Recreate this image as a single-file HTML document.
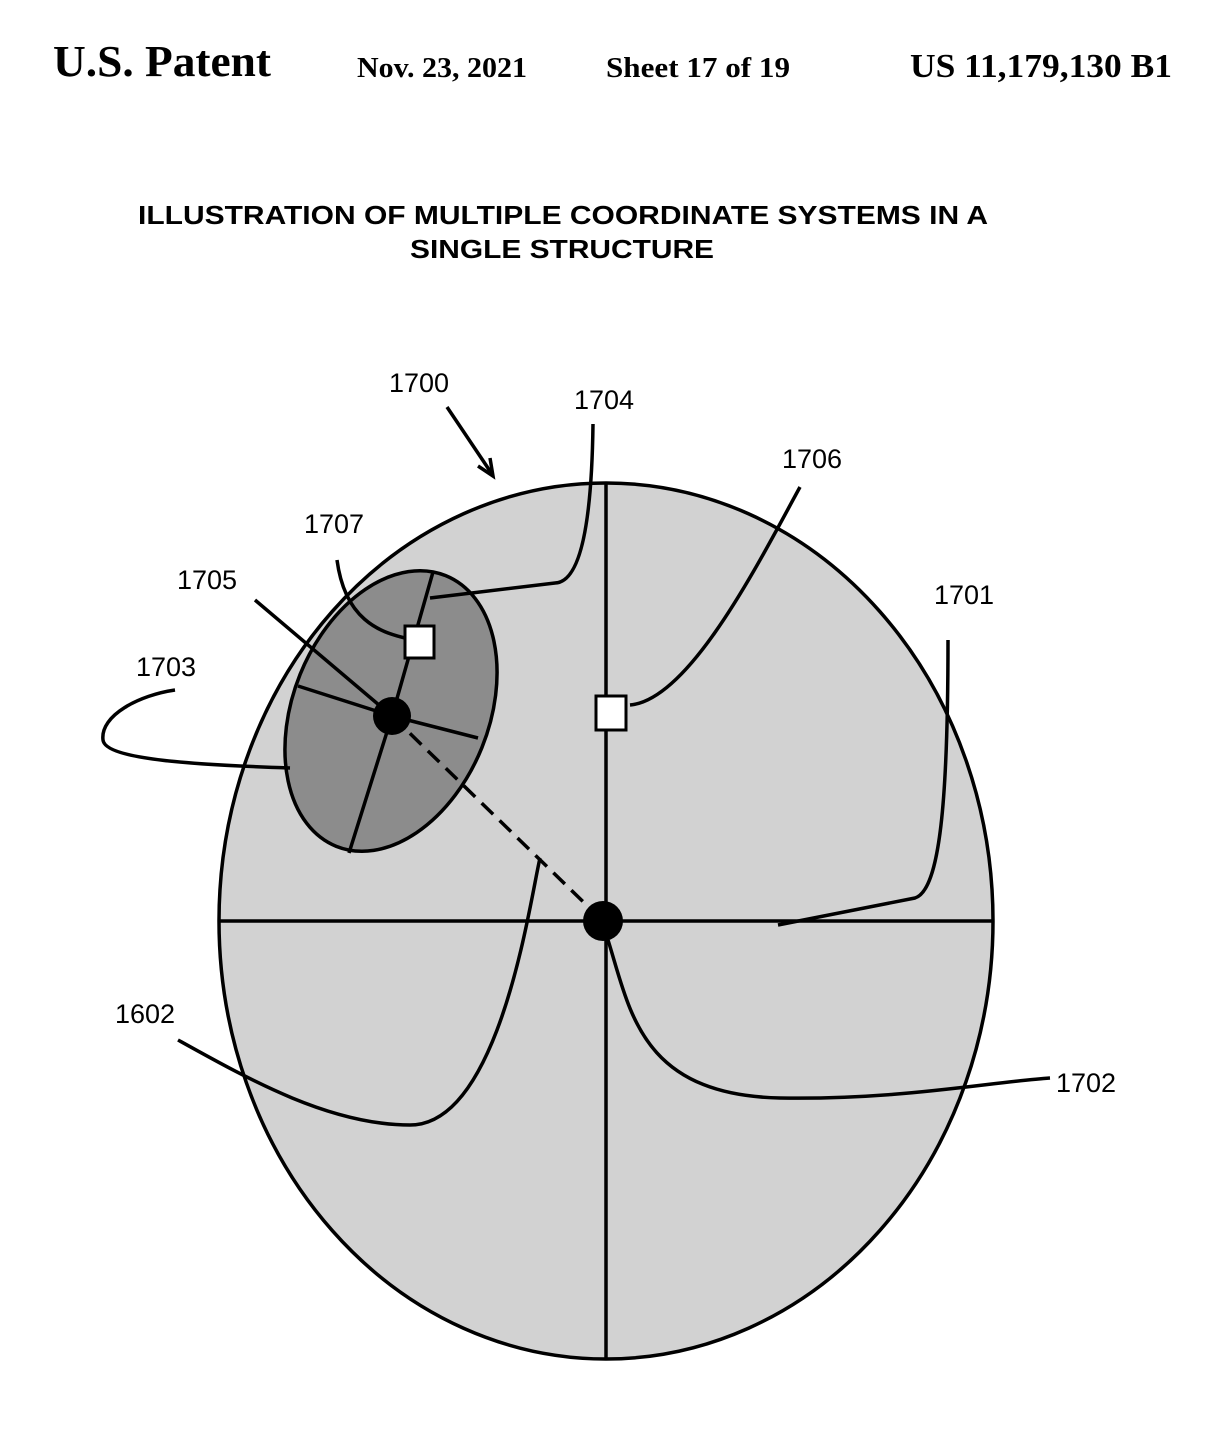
<!DOCTYPE html>
<html><head><style>
body{margin:0;background:#fff;width:1218px;height:1430px;position:relative;overflow:hidden}
</style></head><body>
<svg width="1218" height="1430" style="position:absolute;left:0;top:0" font-family="Liberation Sans, sans-serif">
<g font-family="Liberation Serif, serif" font-weight="bold">
<text x="53" y="76" font-size="44" textLength="218" lengthAdjust="spacingAndGlyphs">U.S. Patent</text>
<text x="357" y="77" font-size="28" textLength="170" lengthAdjust="spacingAndGlyphs">Nov. 23, 2021</text>
<text x="606" y="77" font-size="28" textLength="184" lengthAdjust="spacingAndGlyphs">Sheet 17 of 19</text>
<text x="910" y="77" font-size="34" textLength="262" lengthAdjust="spacingAndGlyphs">US 11,179,130 B1</text>
</g>
<text x="138" y="224" font-size="26" font-weight="bold" textLength="850" lengthAdjust="spacingAndGlyphs">ILLUSTRATION OF MULTIPLE COORDINATE SYSTEMS IN A</text>
<text x="410" y="258" font-size="26" font-weight="bold" textLength="304" lengthAdjust="spacingAndGlyphs">SINGLE STRUCTURE</text>
<g fill="none" stroke="#000" stroke-width="3.5">
<ellipse cx="606" cy="921" rx="387" ry="438" fill="#d2d2d2"/>
<line x1="219" y1="921" x2="993" y2="921"/>
<line x1="606" y1="483" x2="606" y2="1360"/>
<ellipse cx="391" cy="711" rx="98" ry="146" transform="rotate(22 391 711)" fill="#8c8c8c"/>
<path d="M392 716 L433 572 M392 716 L298 686 M392 716 L478 738 M392 716 L349 853 M392 716 L255 600"/>
<path d="M392 716 L603 921" stroke-dasharray="16 9"/>
<path d="M593 424 C592 500 585 582 555 583 L430 598"/>
<path d="M800 487 C760 560 690 700 630 705"/>
<path d="M337 560 C345 620 380 632 405 638"/>
<path d="M290 768 C200 765 105 760 103 740 C100 715 140 695 175 690"/>
<path d="M948 640 C948 800 940 890 915 898 L778 925"/>
<path d="M178 1040 C250 1080 330 1125 410 1125 C500 1125 530 900 540 858"/>
<path d="M608 940 C630 1010 640 1095 780 1098 C900 1100 990 1082 1050 1078"/>
<path d="M447 407 L492 474"/>
<path d="M478 466 L493 476 L490 458" />
</g>
<circle cx="392" cy="716" r="19"/>
<circle cx="603" cy="921" r="20"/>
<rect x="405" y="626" width="29" height="32" fill="#fff" stroke="#000" stroke-width="3"/>
<rect x="596" y="696" width="30" height="34" fill="#fff" stroke="#000" stroke-width="3"/>
<g font-size="27">
<text x="389" y="392">1700</text>
<text x="574" y="409">1704</text>
<text x="782" y="468">1706</text>
<text x="304" y="533">1707</text>
<text x="177" y="589">1705</text>
<text x="934" y="604">1701</text>
<text x="136" y="676">1703</text>
<text x="115" y="1023">1602</text>
<text x="1056" y="1092">1702</text>
</g>
</svg>
</body></html>
